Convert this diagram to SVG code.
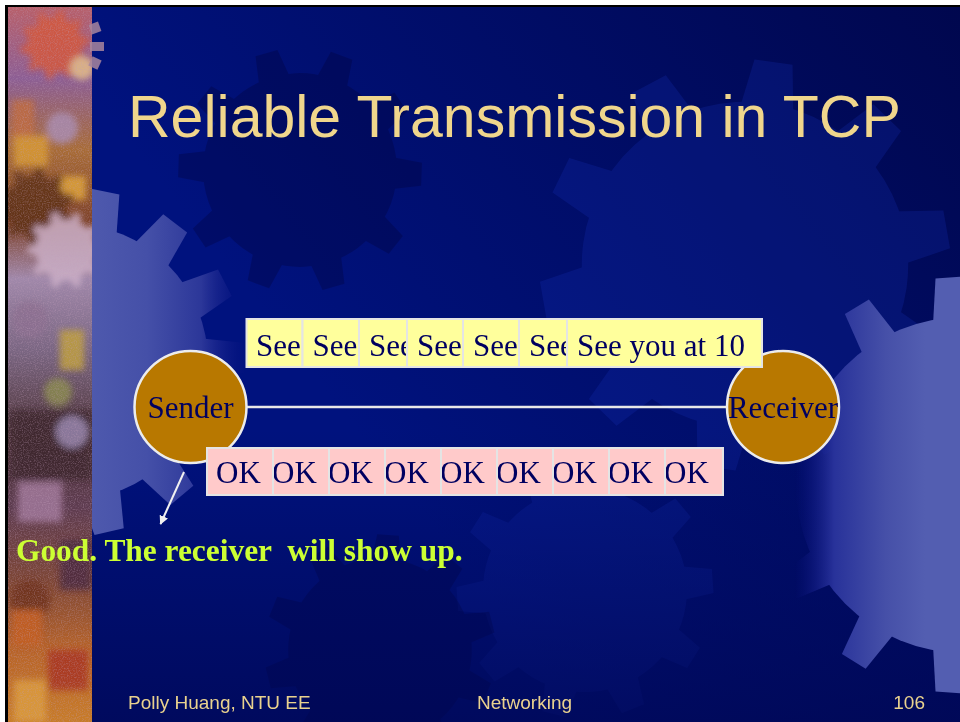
<svg xmlns="http://www.w3.org/2000/svg" xmlns:xlink="http://www.w3.org/1999/xlink" width="960" height="722" viewBox="0 0 960 722">
  <defs>
    <style>
      .title{font-family:"Liberation Sans",Arial,sans-serif;font-size:59px;fill:#F0D68C}
      .foot{font-family:"Liberation Sans",Arial,sans-serif;font-size:19px;fill:#E9D28E}
      .lbl{font-family:"Liberation Serif","Times New Roman",serif;font-size:31px;fill:#000060}
      .seg .bg{fill:#FFFF9C}
      .ack .bg{fill:#FFCACA}
      .edge{fill:none;stroke:#E4E4E4;stroke-width:2}
      .node circle{fill:#B87800;stroke:#ECECEC;stroke-width:2.5}
      .note{font-family:"Liberation Serif","Times New Roman",serif;font-weight:bold;font-size:31.4px;fill:#CCFF33}
      .wire{stroke:#E8E8E8;stroke-width:2.5;fill:none}
      .gearHi{fill:#1A34C0;opacity:0.22}
      .gearLo{fill:#000030;opacity:0.28}
    </style>

    <!-- slide background -->
    <linearGradient id="bgGrad" gradientUnits="userSpaceOnUse" x1="960" y1="0" x2="380" y2="460">
      <stop offset="0" stop-color="#00074E"/>
      <stop offset="1" stop-color="#00127E"/>
    </linearGradient>
    <linearGradient id="bgShade" gradientUnits="userSpaceOnUse" x1="0" y1="430" x2="0" y2="722">
      <stop offset="0" stop-color="#000650" stop-opacity="0"/>
      <stop offset="1" stop-color="#000650" stop-opacity="0.7"/>
    </linearGradient>

    <!-- generic gear (body radius 100, teeth to 128) -->
    <g id="gear10">
      <circle r="102"/>
      <polygon points="-12,-128 12,-128 17,-96 -17,-96"/>
      <polygon points="-12,-128 12,-128 17,-96 -17,-96" transform="rotate(36)"/>
      <polygon points="-12,-128 12,-128 17,-96 -17,-96" transform="rotate(72)"/>
      <polygon points="-12,-128 12,-128 17,-96 -17,-96" transform="rotate(108)"/>
      <polygon points="-12,-128 12,-128 17,-96 -17,-96" transform="rotate(144)"/>
      <polygon points="-12,-128 12,-128 17,-96 -17,-96" transform="rotate(180)"/>
      <polygon points="-12,-128 12,-128 17,-96 -17,-96" transform="rotate(216)"/>
      <polygon points="-12,-128 12,-128 17,-96 -17,-96" transform="rotate(252)"/>
      <polygon points="-12,-128 12,-128 17,-96 -17,-96" transform="rotate(288)"/>
      <polygon points="-12,-128 12,-128 17,-96 -17,-96" transform="rotate(324)"/>
    </g>

    <!-- left light gear -->
    <polygon id="toothL" points="-15,-174 15,-174 21,-128 -21,-128"/>
    <mask id="maskL" maskUnits="userSpaceOnUse" x="0" y="0" width="960" height="722">
      <g transform="translate(70,362)" fill="#fff">
        <circle r="138"/>
        <use xlink:href="#toothL" transform="rotate(11.5)"/>
        <use xlink:href="#toothL" transform="rotate(37.2)"/>
        <use xlink:href="#toothL" transform="rotate(62.9)"/>
        <use xlink:href="#toothL" transform="rotate(88.6)"/>
        <use xlink:href="#toothL" transform="rotate(114.3)"/>
        <use xlink:href="#toothL" transform="rotate(140)"/>
        <use xlink:href="#toothL" transform="rotate(167)"/>
        <use xlink:href="#toothL" transform="rotate(345.6)"/>
      </g>
    </mask>
    <linearGradient id="gradL" gradientUnits="userSpaceOnUse" x1="92" y1="0" x2="248" y2="0">
      <stop offset="0" stop-color="#4E59AD"/>
      <stop offset="0.35" stop-color="#4550A8"/>
      <stop offset="0.7" stop-color="#2C3799"/>
      <stop offset="1" stop-color="#0A1585" stop-opacity="0"/>
    </linearGradient>

    <!-- right light gear -->
    <polygon id="toothR" points="-14,-208 14,-208 20,-160 -20,-160"/>
    <mask id="maskR" maskUnits="userSpaceOnUse" x="0" y="0" width="960" height="722">
      <g transform="translate(964,485)" fill="#fff">
        <circle r="168"/>
        <use xlink:href="#toothR" transform="rotate(-4)"/>
        <use xlink:href="#toothR" transform="rotate(-31)"/>
        <use xlink:href="#toothR" transform="rotate(-60)"/>
        <use xlink:href="#toothR" transform="rotate(-90)"/>
        <use xlink:href="#toothR" transform="rotate(-120)"/>
        <use xlink:href="#toothR" transform="rotate(-148)"/>
        <use xlink:href="#toothR" transform="rotate(-176)"/>
      </g>
    </mask>
    <linearGradient id="gradR" gradientUnits="userSpaceOnUse" x1="795" y1="0" x2="925" y2="0">
      <stop offset="0" stop-color="#0A1585" stop-opacity="0"/>
      <stop offset="0.3" stop-color="#28329A"/>
      <stop offset="0.7" stop-color="#4650A8"/>
      <stop offset="1" stop-color="#535EB1"/>
    </linearGradient>

    <!-- left decorative strip -->
    <linearGradient id="stripGrad" x1="0" y1="0" x2="0" y2="1">
      <stop offset="0" stop-color="#B8606A"/>
      <stop offset="0.1" stop-color="#8C5E94"/>
      <stop offset="0.2" stop-color="#A86C36"/>
      <stop offset="0.3" stop-color="#7E4228"/>
      <stop offset="0.38" stop-color="#A088AA"/>
      <stop offset="0.48" stop-color="#7A6682"/>
      <stop offset="0.6" stop-color="#4E3438"/>
      <stop offset="0.7" stop-color="#5E3C50"/>
      <stop offset="0.8" stop-color="#7C4636"/>
      <stop offset="0.9" stop-color="#B86428"/>
      <stop offset="1" stop-color="#C87C28"/>
    </linearGradient>
    <filter id="soft" x="-10%" y="-10%" width="120%" height="120%">
      <feGaussianBlur stdDeviation="3"/>
    </filter>
    <filter id="grain" x="0" y="0" width="100%" height="100%">
      <feTurbulence type="fractalNoise" baseFrequency="0.85" numOctaves="2" seed="7" result="n"/>
      <feColorMatrix in="n" type="matrix" values="0 0 0 0 0.55  0 0 0 0 0.35  0 0 0 0 0.5  0 0 0 2.2 -0.95"/>
    </filter>
    <clipPath id="stripClip"><rect x="8" y="7" width="84" height="715"/></clipPath>
    <clipPath id="slideClip"><rect x="8" y="7" width="952" height="715"/></clipPath>

    <marker id="ah" viewBox="0 0 10 10" refX="9" refY="5" markerWidth="4.5" markerHeight="4.5" orient="auto">
      <path d="M0,0 L10,5 L0,10 z" fill="#F0F0F0"/>
    </marker>
  </defs>

  <!-- page margin and frame -->
  <rect width="960" height="722" fill="#FFFFFF"/>
  <rect x="5" y="5" width="955" height="717" fill="#000000"/>

  <g clip-path="url(#slideClip)">
    <!-- background -->
    <rect x="8" y="7" width="952" height="715" fill="url(#bgGrad)"/>
    <use xlink:href="#gear10" class="gearHi" transform="translate(745,265) scale(1.6) rotate(8)"/>
    <use xlink:href="#gear10" class="gearLo" transform="translate(300,170) scale(0.95) rotate(20)"/>
    <use xlink:href="#gear10" class="gearHi" transform="translate(585,590) scale(1.0) rotate(14)"/>
    <use xlink:href="#gear10" class="gearLo" transform="translate(380,650) scale(0.9) rotate(4)"/>
    <rect x="8" y="7" width="952" height="715" fill="url(#bgShade)"/>
    <rect x="0" y="0" width="960" height="722" fill="url(#gradL)" mask="url(#maskL)"/>
    <rect x="0" y="0" width="960" height="722" fill="url(#gradR)" mask="url(#maskR)"/>

    <!-- left collage strip -->
    <g clip-path="url(#stripClip)">
      <rect x="8" y="7" width="84" height="715" fill="url(#stripGrad)"/>
      <g filter="url(#soft)" opacity="0.85">
        <use xlink:href="#gear10" transform="translate(55,45) scale(0.27) rotate(10)" fill="#D4583A"/>
        <circle cx="82" cy="68" r="12" fill="#E6C086"/>
        <rect x="12" y="100" width="22" height="44" fill="#C06C40"/>
        <circle cx="62" cy="128" r="16" fill="#A88CB0"/>
        <rect x="14" y="136" width="34" height="30" fill="#D89A30"/>
        <rect x="60" y="176" width="26" height="24" fill="#E0A438"/>
        <use xlink:href="#gear10" transform="translate(36,206) scale(0.3) rotate(5)" fill="#5E3018"/>
        <use xlink:href="#gear10" transform="translate(66,250) scale(0.3) rotate(18)" fill="#CCB0C8"/>
        <rect x="60" y="330" width="24" height="40" fill="#C0A03C"/>
        <circle cx="30" cy="320" r="18" fill="#8C7090"/>
        <circle cx="58" cy="392" r="14" fill="#8A8A50"/>
        <rect x="10" y="410" width="82" height="70" fill="#3C282E"/>
        <circle cx="72" cy="432" r="16" fill="#9484AC"/>
        <rect x="18" y="482" width="44" height="40" fill="#A0789A"/>
        <rect x="60" y="540" width="32" height="50" fill="#4C2C40"/>
        <circle cx="30" cy="600" r="20" fill="#6E301E"/>
        <rect x="12" y="610" width="30" height="36" fill="#C45E20"/>
        <rect x="48" y="650" width="40" height="40" fill="#A83424"/>
        <rect x="14" y="680" width="32" height="42" fill="#DC9C3C"/>
      </g>
      <rect x="8" y="7" width="84" height="715" filter="url(#grain)" opacity="0.4"/>
    </g>
    <!-- gear teeth that stick out of the strip -->
    <g fill="#A8869E" opacity="0.85">
      <rect x="90" y="23" width="10" height="10" transform="rotate(-20 95 28)"/>
      <rect x="90" y="42" width="14" height="9"/>
      <rect x="90" y="58" width="10" height="10" transform="rotate(25 95 63)"/>
    </g>

    <!-- title -->
    <text class="title" x="128" y="137">Reliable Transmission in TCP</text>

    <!-- connectors -->
    <g id="connectors">
      <line class="wire" x1="246" y1="407" x2="727" y2="407"/>
      <line x1="184" y1="472" x2="160.5" y2="524" stroke="#F0F0F0" stroke-width="2" marker-end="url(#ah)"/>
    </g>

    <!-- end points -->
    <g id="sender" class="node">
      <circle cx="190.5" cy="407" r="56"/>
      <text class="lbl" x="190.5" y="418" text-anchor="middle">Sender</text>
    </g>
    <g id="receiver" class="node">
      <circle cx="783" cy="407" r="56"/>
      <text class="lbl" x="783" y="418" text-anchor="middle">Receiver</text>
    </g>

    <!-- data segments -->
    <g id="segments" class="seg">
      <g id="seg1"><rect class="bg" x="246.5" y="319" width="56" height="48"/><text class="lbl" x="256" y="356">See</text><rect class="edge" x="246.5" y="319" width="56" height="48"/></g>
      <g id="seg2"><rect class="bg" x="302.5" y="319" width="57" height="48"/><text class="lbl" x="312.5" y="356">See</text><rect class="edge" x="302.5" y="319" width="57" height="48"/></g>
      <g id="seg3"><rect class="bg" x="359" y="319" width="57" height="48"/><text class="lbl" x="369" y="356">See</text><rect class="edge" x="359" y="319" width="57" height="48"/></g>
      <g id="seg4"><rect class="bg" x="407" y="319" width="56" height="48"/><text class="lbl" x="417" y="356">See</text><rect class="edge" x="407" y="319" width="56" height="48"/></g>
      <g id="seg5"><rect class="bg" x="463" y="319" width="56" height="48"/><text class="lbl" x="473" y="356">See</text><rect class="edge" x="463" y="319" width="56" height="48"/></g>
      <g id="seg6"><rect class="bg" x="519" y="319" width="57" height="48"/><text class="lbl" x="529" y="356">See</text><rect class="edge" x="519" y="319" width="57" height="48"/></g>
      <g id="seg7"><rect class="bg" x="567" y="319" width="195" height="48"/><text class="lbl" x="577" y="356">See you at 10</text><rect class="edge" x="567" y="319" width="195" height="48"/></g>
    </g>

    <!-- acknowledgements -->
    <g id="acks" class="ack">
      <g id="ack1"><rect class="bg" x="207" y="448" width="66" height="47"/><text class="lbl" x="216" y="483">OK</text><rect class="edge" x="207" y="448" width="66" height="47"/></g>
      <g id="ack2"><rect class="bg" x="273" y="448" width="58" height="47"/><text class="lbl" x="272" y="483">OK</text><rect class="edge" x="273" y="448" width="58" height="47"/></g>
      <g id="ack3"><rect class="bg" x="329" y="448" width="58" height="47"/><text class="lbl" x="328" y="483">OK</text><rect class="edge" x="329" y="448" width="58" height="47"/></g>
      <g id="ack4"><rect class="bg" x="385" y="448" width="58" height="47"/><text class="lbl" x="384" y="483">OK</text><rect class="edge" x="385" y="448" width="58" height="47"/></g>
      <g id="ack5"><rect class="bg" x="441" y="448" width="58" height="47"/><text class="lbl" x="440" y="483">OK</text><rect class="edge" x="441" y="448" width="58" height="47"/></g>
      <g id="ack6"><rect class="bg" x="497" y="448" width="58" height="47"/><text class="lbl" x="496" y="483">OK</text><rect class="edge" x="497" y="448" width="58" height="47"/></g>
      <g id="ack7"><rect class="bg" x="553" y="448" width="58" height="47"/><text class="lbl" x="552" y="483">OK</text><rect class="edge" x="553" y="448" width="58" height="47"/></g>
      <g id="ack8"><rect class="bg" x="609" y="448" width="58" height="47"/><text class="lbl" x="608" y="483">OK</text><rect class="edge" x="609" y="448" width="58" height="47"/></g>
      <g id="ack9"><rect class="bg" x="665" y="448" width="58" height="47"/><text class="lbl" x="664" y="483">OK</text><rect class="edge" x="665" y="448" width="58" height="47"/></g>
    </g>

    <!-- annotation -->
    <g id="note">
      <text class="note" x="16" y="561" xml:space="preserve">Good. The receiver  will show up.</text>
    </g>

    <!-- footer -->
    <text class="foot" x="128" y="709">Polly Huang, NTU EE</text>
    <text class="foot" x="477" y="709">Networking</text>
    <text class="foot" x="925" y="709" text-anchor="end">106</text>
  </g>
</svg>
